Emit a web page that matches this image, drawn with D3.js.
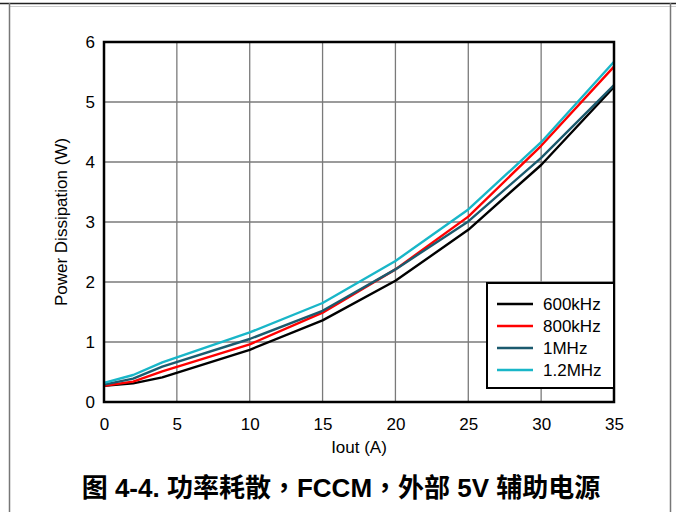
<!DOCTYPE html>
<html><head><meta charset="utf-8">
<script src="https://cdn.jsdelivr.net/npm/d3@7"></script>
<style>body{margin:0;background:#fff}svg{display:block}</style>
</head><body>
<script>
const iout = [0, 2, 4, 10, 15, 20, 25, 30, 35];
const p600k = [0.27, 0.31, 0.41, 0.87, 1.36, 2.02, 2.87, 3.95, 5.25];
const p800k = [0.27, 0.34, 0.51, 0.96, 1.49, 2.21, 3.09, 4.27, 5.59];
const p1M   = [0.29, 0.39, 0.59, 1.05, 1.52, 2.21, 3.01, 4.07, 5.28];
const p1M2  = [0.32, 0.45, 0.66, 1.16, 1.65, 2.35, 3.21, 4.33, 5.67];
const seriesNames = ["600kHz", "800kHz", "1MHz", "1.2MHz"];
const seriesColors = ["#000000", "#ff0000", "#1b5a6e", "#19b6c8"];
const xTicks = [0, 5, 10, 15, 20, 25, 30, 35];
const yTicks = [0, 1, 2, 3, 4, 5, 6];
const titleParts = ["图 4-4. 功率耗散", "，", "FCCM", "，", "外部 5V 辅助电源"];

const series = [p600k, p800k, p1M, p1M2];
const W = 676, H = 512;
const m = {l:104, r:614, t:42, b:402};
const FONT = "Liberation Sans, Arial, sans-serif";
const svg = d3.select("body").append("svg").attr("width", W).attr("height", H);

// outer page frame
svg.append("line").attr("x1",0).attr("x2",W).attr("y1",3.5).attr("y2",3.5).attr("stroke","#222").attr("stroke-width",1.5);
svg.append("line").attr("x1",10).attr("x2",W).attr("y1",6.5).attr("y2",6.5).attr("stroke","#ccc").attr("stroke-width",1);
svg.append("line").attr("x1",9.5).attr("x2",9.5).attr("y1",3).attr("y2",H).attr("stroke","#777").attr("stroke-width",1.5);
svg.append("line").attr("x1",670.5).attr("x2",670.5).attr("y1",3).attr("y2",H).attr("stroke","#777").attr("stroke-width",1.5);

const x = d3.scaleLinear().domain([0,35]).range([m.l, m.r]);
const y = d3.scaleLinear().domain([0,6]).range([m.b, m.t]);

// grid
const g = svg.append("g");
g.selectAll(".vx").data(xTicks.slice(1,-1)).enter().append("line")
  .attr("x1",d=>x(d)).attr("x2",d=>x(d)).attr("y1",m.t).attr("y2",m.b)
  .attr("stroke","#7a7a7a").attr("stroke-width",1.3);
g.selectAll(".hy").data(yTicks.slice(1,-1)).enter().append("line")
  .attr("x1",m.l).attr("x2",m.r).attr("y1",d=>y(d)).attr("y2",d=>y(d))
  .attr("stroke","#7a7a7a").attr("stroke-width",1.3);

// axes tick labels
const xAxis = d3.axisBottom(x).tickValues(xTicks).tickFormat(d3.format("d")).tickSize(0).tickPadding(16);
const yAxis = d3.axisLeft(y).tickValues(yTicks).tickFormat(d3.format("d")).tickSize(0).tickPadding(9);
const ax = svg.append("g").attr("transform",`translate(0,${m.b})`).call(xAxis);
const ay = svg.append("g").attr("transform",`translate(${m.l},0)`).call(yAxis);
[ax, ay].forEach(a => {
  a.select(".domain").remove();
  a.selectAll("text").attr("font-family",FONT).attr("font-size",17).attr("fill","#000");
});

// lines
const line = d3.line().x((d,i)=>x(iout[i])).y(d=>y(d));
series.forEach((s,k)=>{
  svg.append("path").datum(s).attr("d",line).attr("fill","none")
    .attr("stroke",seriesColors[k]).attr("stroke-width",2.4).attr("stroke-linejoin","round");
});

// plot frame
svg.append("rect").attr("x",m.l).attr("y",m.t).attr("width",m.r-m.l).attr("height",m.b-m.t)
  .attr("fill","none").attr("stroke","#000").attr("stroke-width",2.5);

// legend
const lg = svg.append("g");
lg.append("rect").attr("x",487).attr("y",283).attr("width",m.r-487).attr("height",105)
  .attr("fill","#fff").attr("stroke","#000").attr("stroke-width",2);
seriesNames.forEach((n,k)=>{
  const yy = 304 + k*22;
  lg.append("line").attr("x1",497).attr("x2",533).attr("y1",yy).attr("y2",yy)
    .attr("stroke",seriesColors[k]).attr("stroke-width",2.4);
  lg.append("text").attr("x",543).attr("y",yy).attr("dy","0.36em").text(n)
    .attr("font-family",FONT).attr("font-size",17);
});

// axis titles
svg.append("text").attr("x",(m.l+m.r)/2).attr("y",453).attr("text-anchor","middle")
  .attr("font-family",FONT).attr("font-size",17).text("Iout (A)");
svg.append("text").attr("transform",`translate(67,${(m.t+m.b)/2}) rotate(-90)`).attr("text-anchor","middle")
  .attr("font-family",FONT).attr("font-size",17).text("Power Dissipation (W)");

// caption (full-width commas centred, as in the reference)
const cap = svg.append("text").attr("x",341).attr("y",497).attr("text-anchor","middle")
  .attr("font-family","Liberation Sans, Noto Sans CJK SC, sans-serif").attr("font-weight","bold")
  .attr("font-size",26);
titleParts.forEach(p=>{
  const t = cap.append("tspan").text(p);
  if (p === "，") t.attr("font-family","Noto Sans CJK TC, sans-serif");
});
</script>
</body></html>
